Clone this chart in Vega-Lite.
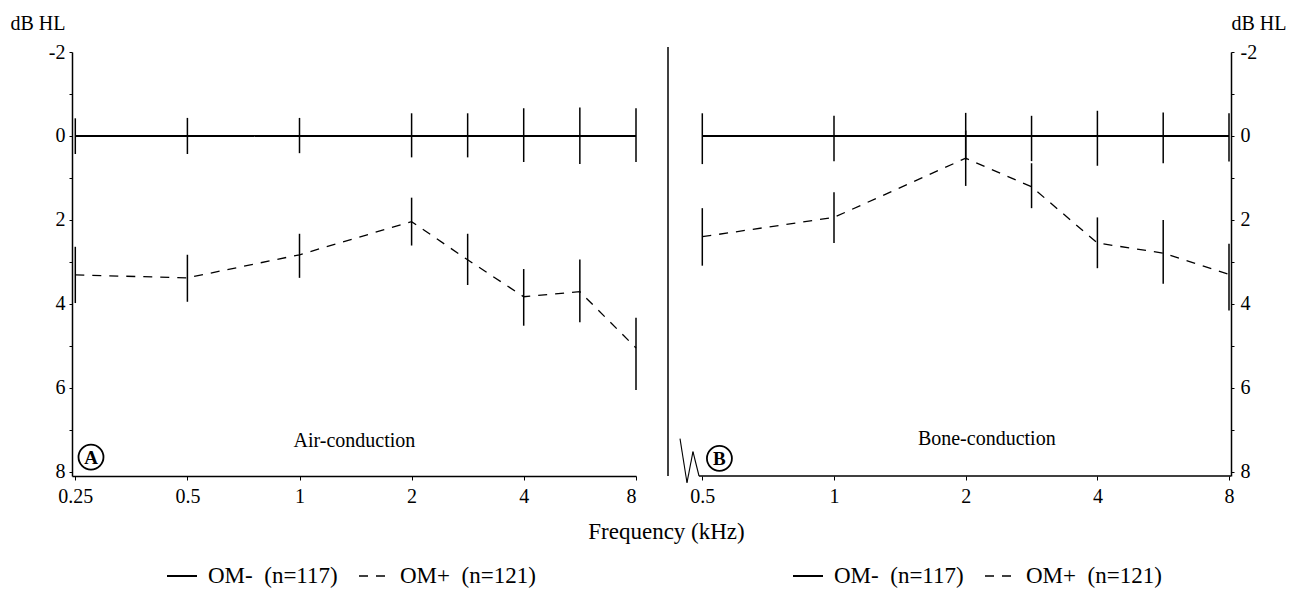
{
  "$schema": "https://vega.github.io/schema/vega-lite/v6.json",
  "background": "white",
  "padding": {"left": 10, "top": 13, "right": 0, "bottom": 0},
  "spacing": 32,
  "bounds": "flush",
  "resolve": {"scale": {"strokeDash": "independent", "strokeWidth": "independent"}, "legend": {"strokeDash": "independent"}},
  "datasets": {
    "air": [
      {"freq": 0.25, "group": "OM-", "mean": 0, "lo": -0.42, "hi": 0.43},
      {"freq": 0.5, "group": "OM-", "mean": 0, "lo": -0.43, "hi": 0.43},
      {"freq": 1, "group": "OM-", "mean": 0, "lo": -0.43, "hi": 0.41},
      {"freq": 2, "group": "OM-", "mean": 0, "lo": -0.54, "hi": 0.51},
      {"freq": 3, "group": "OM-", "mean": 0, "lo": -0.54, "hi": 0.51},
      {"freq": 4, "group": "OM-", "mean": 0, "lo": -0.66, "hi": 0.62},
      {"freq": 6, "group": "OM-", "mean": 0, "lo": -0.68, "hi": 0.67},
      {"freq": 8, "group": "OM-", "mean": 0, "lo": -0.66, "hi": 0.62},
      {"freq": 0.25, "group": "OM+", "mean": 3.31, "lo": 2.64, "hi": 3.98},
      {"freq": 0.5, "group": "OM+", "mean": 3.38, "lo": 2.83, "hi": 3.95},
      {"freq": 1, "group": "OM+", "mean": 2.83, "lo": 2.33, "hi": 3.38},
      {"freq": 2, "group": "OM+", "mean": 2.04, "lo": 1.47, "hi": 2.61},
      {"freq": 3, "group": "OM+", "mean": 2.95, "lo": 2.33, "hi": 3.55},
      {"freq": 4, "group": "OM+", "mean": 3.83, "lo": 3.17, "hi": 4.52},
      {"freq": 6, "group": "OM+", "mean": 3.71, "lo": 2.94, "hi": 4.44},
      {"freq": 8, "group": "OM+", "mean": 5.05, "lo": 4.33, "hi": 6.05}
    ],
    "bone": [
      {"freq": 0.5, "group": "OM-", "mean": 0, "lo": -0.54, "hi": 0.67},
      {"freq": 1, "group": "OM-", "mean": 0, "lo": -0.48, "hi": 0.6},
      {"freq": 2, "group": "OM-", "mean": 0, "lo": -0.55, "hi": 0.57},
      {"freq": 3, "group": "OM-", "mean": 0, "lo": -0.48, "hi": 0.6},
      {"freq": 4, "group": "OM-", "mean": 0, "lo": -0.6, "hi": 0.71},
      {"freq": 6, "group": "OM-", "mean": 0, "lo": -0.56, "hi": 0.65},
      {"freq": 8, "group": "OM-", "mean": 0, "lo": -0.54, "hi": 0.61},
      {"freq": 0.5, "group": "OM+", "mean": 2.4, "lo": 1.72, "hi": 3.09},
      {"freq": 1, "group": "OM+", "mean": 1.94, "lo": 1.34, "hi": 2.55},
      {"freq": 2, "group": "OM+", "mean": 0.53, "lo": -0.13, "hi": 1.19},
      {"freq": 3, "group": "OM+", "mean": 1.21, "lo": 0.65, "hi": 1.72},
      {"freq": 4, "group": "OM+", "mean": 2.55, "lo": 1.94, "hi": 3.15},
      {"freq": 6, "group": "OM+", "mean": 2.79, "lo": 2.0, "hi": 3.52},
      {"freq": 8, "group": "OM+", "mean": 3.3, "lo": 2.57, "hi": 4.16}
    ],
    "one": [{}]
  },
  "hconcat": [
    {
      "width": 564,
      "height": 424,
      "layer": [
        {
          "data": {"name": "air"},
          "mark": {"type": "rule", "color": "black", "strokeWidth": 1.5},
          "encoding": {
            "x": {
              "field": "freq", "type": "quantitative", "title": "Frequency (kHz)",
              "scale": {"type": "linear", "domain": [0.2, 0.25, 0.5, 1, 2, 4, 8], "range": [0, 3.3, 115.4, 227.5, 339.6, 451.7, 564], "nice": false, "zero": false},
              "axis": {"values": [0.25, 0.5, 1, 2, 4, 8], "labelExpr": "datum.value + ''", "tickSize": 4, "labelPadding": 6,
                "titleX": 594, "titleY": 62, "titleAlign": "center", "titleBaseline": "alphabetic", "titleFontSize": 23}
            },
            "y": {
              "field": "lo", "type": "quantitative", "title": "dB HL",
              "scale": {"domain": [-2, 8.1], "reverse": true, "nice": false, "zero": false},
              "axis": {"values": [-2, -1.5, -1, -0.5, 0, 0.5, 1, 1.5, 2, 2.5, 3, 3.5, 4, 4.5, 5, 5.5, 6, 6.5, 7, 7.5, 8],
                "labelExpr": "datum.value % 2 == 0 ? datum.value + '' : ''", "tickSize": 3, "labelPadding": 4,
                "titleAngle": 0, "titleAlign": "left", "titleBaseline": "alphabetic", "titleX": -62, "titleY": -23}
            },
            "y2": {"field": "hi"}
          }
        },
        {
          "data": {"name": "air"},
          "mark": {"type": "line", "color": "black"},
          "encoding": {
            "x": {"field": "freq", "type": "quantitative", "title": "Frequency (kHz)"},
            "y": {"field": "mean", "type": "quantitative", "title": "dB HL"},
            "strokeDash": {
              "field": "group", "type": "nominal",
              "scale": {"domain": ["OM-", "OM+"], "range": [[1, 0], [9, 8]]},
              "legend": {"orient": "none", "legendX": 94, "legendY": 508, "direction": "horizontal", "title": null,
                "symbolType": "stroke", "symbolSize": 900, "symbolStrokeWidth": 1.2, "symbolStrokeColor": "black",
                "labelFontSize": 23, "labelColor": "black", "labelOffset": 10, "columnPadding": 18, "padding": 0,
                "labelExpr": "datum.label == 'OM-' ? 'OM-\u00a0\u00a0(n=117)' : 'OM+\u00a0\u00a0(n=121)'"}
            },
            "strokeWidth": {"field": "group", "type": "ordinal", "scale": {"domain": ["OM-", "OM+"], "range": [2, 1.3]}, "legend": null}
          }
        },
        {
          "data": {"name": "one"},
          "mark": {"type": "text", "fontSize": 20, "align": "center", "baseline": "alphabetic", "color": "black"},
          "encoding": {
            "x": {"datum": 1.49, "type": "quantitative"},
            "y": {"datum": 7.4, "type": "quantitative"},
            "text": {"value": "Air-conduction"}
          }
        },
        {
          "data": {"name": "one"},
          "mark": {"type": "point", "shape": "circle", "size": 625, "filled": false, "stroke": "black", "strokeWidth": 1.8, "opacity": 1},
          "encoding": {
            "x": {"datum": 0.285, "type": "quantitative"},
            "y": {"datum": 7.65, "type": "quantitative"}
          }
        },
        {
          "data": {"name": "one"},
          "mark": {"type": "text", "fontSize": 19, "fontWeight": "bold", "align": "center", "baseline": "middle", "color": "black", "dy": 1},
          "encoding": {
            "x": {"datum": 0.285, "type": "quantitative"},
            "y": {"datum": 7.65, "type": "quantitative"},
            "text": {"value": "A"}
          }
        }
      ]
    },
    {
      "width": 563,
      "height": 424,
      "layer": [
        {
          "data": {"name": "bone"},
          "mark": {"type": "rule", "color": "black", "strokeWidth": 1.5},
          "encoding": {
            "x": {
              "field": "freq", "type": "quantitative", "title": null,
              "scale": {"type": "linear", "domain": [0, 0.5, 1, 2, 4, 8, 9], "range": [0, 34.3, 166, 297.7, 429.4, 561, 563], "nice": false, "zero": false},
              "axis": {"values": [0.5, 1, 2, 4, 8], "labelExpr": "datum.value + ''", "tickSize": 4, "labelPadding": 6, "domain": false}
            },
            "y": {
              "field": "lo", "type": "quantitative", "title": "dB HL",
              "scale": {"domain": [-2, 8.1], "reverse": true, "nice": false, "zero": false},
              "axis": {"orient": "right", "values": [-2, -1.5, -1, -0.5, 0, 0.5, 1, 1.5, 2, 2.5, 3, 3.5, 4, 4.5, 5, 5.5, 6, 6.5, 7, 7.5, 8],
                "labelExpr": "datum.value % 2 == 0 ? datum.value + '' : ''", "tickSize": 3, "labelPadding": 6,
                "titleAngle": 0, "titleAlign": "left", "titleBaseline": "alphabetic", "titleX": 0, "titleY": -23}
            },
            "y2": {"field": "hi"}
          }
        },
        {
          "data": {"name": "bone"},
          "mark": {"type": "line", "color": "black"},
          "encoding": {
            "x": {"field": "freq", "type": "quantitative", "title": null},
            "y": {"field": "mean", "type": "quantitative", "title": "dB HL"},
            "strokeDash": {
              "field": "group", "type": "nominal",
              "scale": {"domain": ["OM-", "OM+"], "range": [[1, 0], [9, 8]]},
              "legend": {"orient": "none", "legendX": 124, "legendY": 508, "direction": "horizontal", "title": null,
                "symbolType": "stroke", "symbolSize": 900, "symbolStrokeWidth": 1.2, "symbolStrokeColor": "black",
                "labelFontSize": 23, "labelColor": "black", "labelOffset": 10, "columnPadding": 18, "padding": 0,
                "labelExpr": "datum.label == 'OM-' ? 'OM-\u00a0\u00a0(n=117)' : 'OM+\u00a0\u00a0(n=121)'"}
            },
            "strokeWidth": {"field": "group", "type": "ordinal", "scale": {"domain": ["OM-", "OM+"], "range": [2, 1.3]}, "legend": null}
          }
        },
        {
          "data": {"name": "one"},
          "mark": {"type": "rule", "color": "black", "strokeWidth": 1.5},
          "encoding": {
            "x": {"datum": 0, "type": "quantitative"},
            "y": {"datum": -2.12, "type": "quantitative"},
            "y2": {"datum": 8.1}
          }
        },
        {
          "data": {"name": "one"},
          "mark": {"type": "rule", "color": "black", "strokeWidth": 1.5},
          "encoding": {
            "x": {"datum": 0.452, "type": "quantitative"},
            "x2": {"datum": 9},
            "y": {"datum": 8.1, "type": "quantitative"}
          }
        },
        {
          "data": {"name": "one"},
          "mark": {"type": "rule", "color": "black", "strokeWidth": 1.1},
          "encoding": {
            "x": {"datum": 0.175, "type": "quantitative"},
            "x2": {"datum": 0.277},
            "y": {"datum": 7.21, "type": "quantitative"},
            "y2": {"datum": 8.26}
          }
        },
        {
          "data": {"name": "one"},
          "mark": {"type": "rule", "color": "black", "strokeWidth": 1.1},
          "encoding": {
            "x": {"datum": 0.277, "type": "quantitative"},
            "x2": {"datum": 0.364},
            "y": {"datum": 8.26, "type": "quantitative"},
            "y2": {"datum": 7.52}
          }
        },
        {
          "data": {"name": "one"},
          "mark": {"type": "rule", "color": "black", "strokeWidth": 1.1},
          "encoding": {
            "x": {"datum": 0.364, "type": "quantitative"},
            "x2": {"datum": 0.452},
            "y": {"datum": 7.52, "type": "quantitative"},
            "y2": {"datum": 8.1}
          }
        },
        {
          "data": {"name": "one"},
          "mark": {"type": "text", "fontSize": 20, "align": "center", "baseline": "alphabetic", "color": "black"},
          "encoding": {
            "x": {"datum": 2.32, "type": "quantitative"},
            "y": {"datum": 7.36, "type": "quantitative"},
            "text": {"value": "Bone-conduction"}
          }
        },
        {
          "data": {"name": "one"},
          "mark": {"type": "point", "shape": "circle", "size": 625, "filled": false, "stroke": "black", "strokeWidth": 1.8, "opacity": 1},
          "encoding": {
            "x": {"datum": 0.565, "type": "quantitative"},
            "y": {"datum": 7.68, "type": "quantitative"}
          }
        },
        {
          "data": {"name": "one"},
          "mark": {"type": "text", "fontSize": 19, "fontWeight": "bold", "align": "center", "baseline": "middle", "color": "black", "dy": 1},
          "encoding": {
            "x": {"datum": 0.565, "type": "quantitative"},
            "y": {"datum": 7.68, "type": "quantitative"},
            "text": {"value": "B"}
          }
        }
      ]
    }
  ],
  "config": {
    "font": "Liberation Serif",
    "view": {"stroke": null},
    "axis": {
      "grid": false,
      "labelFont": "Liberation Serif", "labelFontSize": 20, "labelColor": "black",
      "titleFont": "Liberation Serif", "titleFontSize": 20, "titleFontWeight": "normal", "titleColor": "black",
      "domainColor": "black", "domainWidth": 1.5, "tickColor": "black", "tickWidth": 1
    },
    "legend": {"labelFont": "Liberation Serif"}
  }
}
